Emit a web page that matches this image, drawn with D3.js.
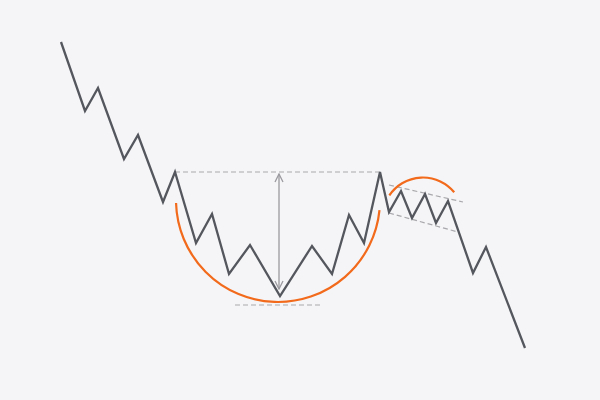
<!DOCTYPE html>
<html><head><meta charset="utf-8">
<script src="https://cdn.jsdelivr.net/npm/d3@7"></script>
<style>html,body{margin:0;padding:0;background:#f5f5f7;}svg{display:block;}</style>
</head><body>
<svg id="c" width="600" height="400"></svg>
<script>
// price path (x = time units, y = price units)
const timeX = [61,85,98,124,138,163,175,196,212,229,250,280,312,332,349,364,380,389,401,412,425,436,448,473,486,525];
const priceY = [358,289,312,241,265,198,228,157,186,126,155,104,154,126,185,157,228,188,209,182,206,177,199,127,153,52];
// pattern levels
const rimLevel = 228;       // neckline (top of cup)
const cupBottomLevel = 95;  // dashed bottom line
const rimStart = 175, rimEnd = 380;
const bottomStart = 235, bottomEnd = 323;
const arrowX = 279, arrowTop = 226, arrowBottom = 111;
// handle channel
const chanUpper = [[389,215],[463,198]];
const chanLower = [[389,187],[458,168]];
// arcs: centre, radius (in data units), angles
const cupArc = {cx:278, cy:200, r:102, a0:Math.PI/2 + 0.1, a1:Math.PI*1.5 - 0.03};
const handleArc = {cx:423, cy:182, r:40.5, a0:-0.98, a1:0.88};

const svg = d3.select("#c");
const x = d3.scaleLinear().domain([0,600]).range([0,600]);
const y = d3.scaleLinear().domain([0,400]).range([400,0]);

const gray = "#a9a9ad", orange = "#f26a1b", lineC = "#55575e";

function dashed(x1,y1,x2,y2){
  svg.append("line").attr("x1",x(x1)).attr("y1",y(y1)).attr("x2",x(x2)).attr("y2",y(y2))
    .attr("stroke",gray).attr("stroke-width",1.2).attr("stroke-dasharray","5,3");
}
dashed(rimStart,rimLevel,rimEnd,rimLevel);
dashed(bottomStart,cupBottomLevel,bottomEnd,cupBottomLevel);
dashed(chanUpper[0][0],chanUpper[0][1],chanUpper[1][0],chanUpper[1][1]);
dashed(chanLower[0][0],chanLower[0][1],chanLower[1][0],chanLower[1][1]);

// arrow
const defs = svg.append("defs");
defs.append("marker").attr("id","ah").attr("viewBox","0 0 10 10").attr("refX",9).attr("refY",5)
  .attr("markerWidth",10).attr("markerHeight",10).attr("orient","auto-start-reverse")
  .attr("markerUnits","userSpaceOnUse")
  .append("path").attr("d","M1,1 L9,5 L1,9").attr("fill","none").attr("stroke","#9a9a9f").attr("stroke-width",1.3);
svg.append("line").attr("x1",x(arrowX)).attr("x2",x(arrowX)).attr("y1",y(arrowTop)).attr("y2",y(arrowBottom))
  .attr("stroke","#9a9a9f").attr("stroke-width",1.3)
  .attr("marker-start","url(#ah)").attr("marker-end","url(#ah)");

// arcs (angles measured in screen space, 0 = up, clockwise as d3.arc)
function arc(a){
  const g = d3.arc().innerRadius(a.r).outerRadius(a.r).startAngle(a.a0).endAngle(a.a1);
  svg.append("path").attr("transform",`translate(${x(a.cx)},${y(a.cy)})`)
    .attr("d", g()).attr("fill","none").attr("stroke",orange).attr("stroke-width",2.2);
}
arc(cupArc);
arc(handleArc);

const line = d3.line().x((d,i)=>x(timeX[i])).y(d=>y(d));
svg.append("path").attr("d",line(priceY)).attr("fill","none").attr("stroke",lineC)
  .attr("stroke-width",2.3).attr("stroke-linejoin","miter");
</script>
</body></html>
